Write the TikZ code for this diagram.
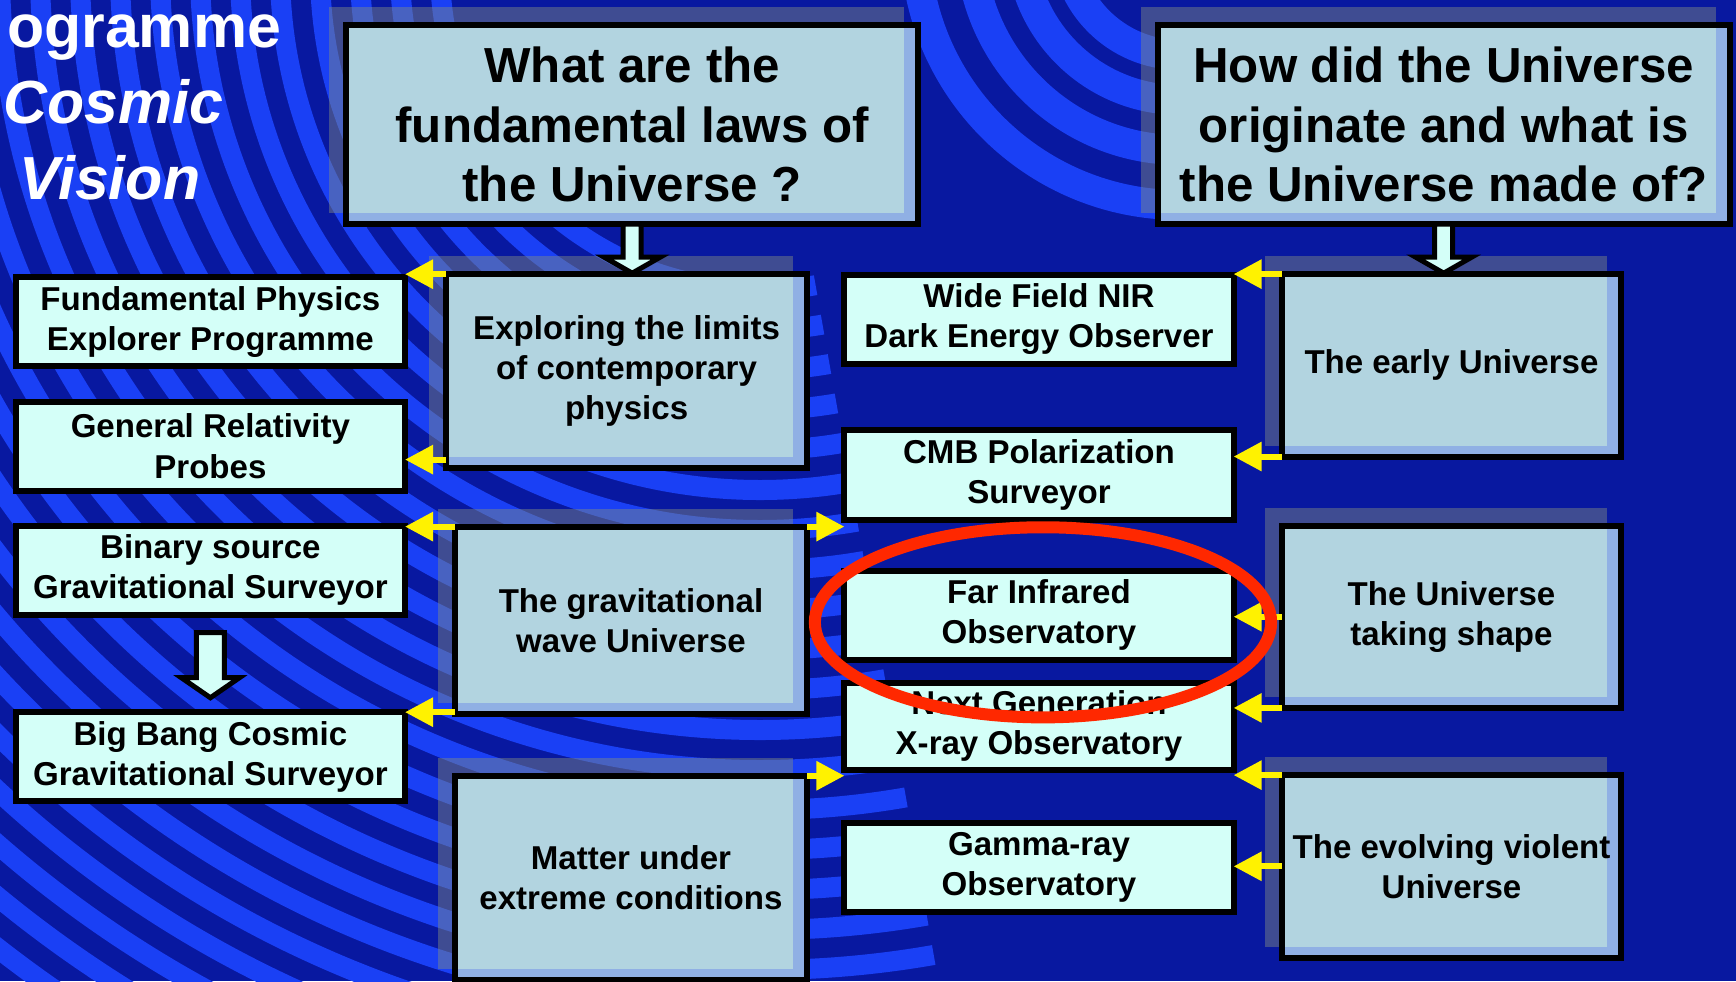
\documentclass[tikz,border=0pt]{standalone}
\usepackage{fontspec}
\setmainfont{Liberation Sans}
\usetikzlibrary{arrows.meta}
\definecolor{navy}{HTML}{0818A0}
\definecolor{swirl}{HTML}{1A40F5}
\definecolor{missionfill}{HTML}{D4FFF8}
\definecolor{themefill}{HTML}{B2D4E0}
\definecolor{themeedge}{HTML}{90B0E4}
\definecolor{shadegray}{HTML}{828C82}
\definecolor{marker}{HTML}{FF2800}
\pgfdeclarelayer{back}
\pgfdeclarelayer{shade}
\pgfsetlayers{back,shade,main}
\newcommand{\boxfont}{\fontsize{9.4}{11.4}\selectfont\bfseries}
\newcommand{\questionfont}{\fontsize{14}{17}\selectfont\bfseries}
\newcommand{\titlefont}{\fontsize{17.3}{22}\selectfont\bfseries}
\newcommand{\mission}[3]{\node[mission] (#1) at (#2) {#3};}
\newcommand{\shadebox}[1]{\fill[shade] ([shift={(-17,-18)}]#1.north west) rectangle ([shift={(-14,-11)}]#1.south east);}

\begin{document}
\begin{tikzpicture}[
      x=0.01cm, y=-0.01cm,
      every node/.style={inner sep=0pt, outer sep=0pt, align=center, font=\boxfont},
      mission/.style={draw=black, line width=0.06cm, fill=missionfill, minimum width=3.89cm, minimum height=0.89cm},
      theme/.style={draw=black, line width=0.06cm, fill=themeedge,
        path picture={\fill[themefill] (path picture bounding box.north west) rectangle ([xshift=-0.14cm,yshift=0.11cm]path picture bounding box.south east);}},
      question/.style={theme, minimum width=5.72cm, minimum height=1.99cm, font=\questionfont},
      title/.style={text=white, font=\titlefont},
      shade/.style={fill=shadegray, fill opacity=0.45},
      stripe/.style={draw=swirl, line width=0.2cm},
      ypointer/.style={draw=yellow, line width=0.06cm, -{Triangle[length=0.28cm,width=0.28cm]}},
      bpointer/.style={draw=black, line width=0.05cm, fill=missionfill},
      highlight/.style={draw=marker, line width=0.12cm}
      ]
      \useasboundingbox (0,0) rectangle (1736,981);
      \clip (0,0) rectangle (1736,981);

      \begin{pgfonlayer}{back}
        \clip (0,0) rectangle (1736,981);
        \fill[navy] (0,0) rectangle (1736,981);
        \begin{scope}
          \clip (760,-30) -- (1281,2924) -- (-3000,2924) -- (-3000,-1000) -- (760,-1000) -- cycle;
          \foreach \r in {320,360,...,1400}
            \draw[stripe] (760,-30) circle[radius=\r];
        \end{scope}
        \begin{scope}
          \clip (830,0) rectangle (1160,240);
          \foreach \r in {115,160,210,265}
            \draw[stripe, line width=0.3cm] (1180,-60) circle[radius=\r];
        \end{scope}
      \end{pgfonlayer}

      \node[question] (Q1) at (632.2,124.6) {What are the\\fundamental laws of\\the Universe ?};
      \node[question] (Q2) at (1443.7,124.6) {How did the Universe\\originate and what is\\the Universe made of?};

      \node[theme, minimum width=3.615cm, minimum height=1.933cm] (EXP) at (626.6,370.9) {Exploring the limits\\of contemporary\\physics};
      \node[theme, minimum width=3.527cm, minimum height=1.877cm] (GW) at (631,620.5) {The gravitational\\wave Universe};
      \node[theme, minimum width=3.527cm, minimum height=2.04cm] (MU) at (631,877.8) {Matter under\\extreme conditions};
      \node[theme, minimum width=3.395cm, minimum height=1.823cm] (EU) at (1451.5,365.3) {The early Universe};
      \node[theme, minimum width=3.395cm, minimum height=1.823cm] (US) at (1451.5,616.7) {The Universe\\taking shape};
      \node[theme, minimum width=3.395cm, minimum height=1.823cm] (EV) at (1451.5,866.3) {The evolving violent\\Universe};

      \mission{FP}{210.4,321.6}{Fundamental Physics\\Explorer Programme}
      \mission{GR}{210.4,446.2}{General Relativity\\Probes}
      \mission{BS}{210.4,570.2}{Binary source\\Gravitational Surveyor}
      \mission{BB}{210.4,756.7}{Big Bang Cosmic\\Gravitational Surveyor}
      \mission{WF}{1039,319.4}{Wide Field NIR\\Dark Energy Observer}
      \mission{CMB}{1039,475}{CMB Polarization\\Surveyor}
      \mission{FIR}{1039,615.3}{Far Infrared\\Observatory}
      \node[mission, minimum height=0.87cm] (NGX) at (1039,726.3) {Next Generation\\X-ray Observatory};
      \mission{GRO}{1039,867.7}{Gamma-ray\\Observatory}

      \begin{pgfonlayer}{shade}
        \foreach \n in {Q1,Q2,EXP,GW,MU,EU,US,EV}
          {\shadebox{\n}}
      \end{pgfonlayer}

      \draw[bpointer] ([xshift=-0.09cm]Q1.south) -- ++(0,33) -- ++(-19,0) -- ++(28,16) -- ++(28,-16) -- ++(-19,0) -- ++(0,-33) -- cycle;
      \draw[bpointer] ([xshift=-0.09cm]Q2.south) -- ++(0,33) -- ++(-19,0) -- ++(28,16) -- ++(28,-16) -- ++(-19,0) -- ++(0,-33) -- cycle;
      \draw[bpointer] ([shift={(-14,18)}]BS.south) -- ++(0,45) -- ++(-15,0) -- ++(29,20) -- ++(29,-20) -- ++(-15,0) -- ++(0,-45) -- cycle;

      \coordinate (a2) at ([yshift=0.08cm]EXP.south west);
      \draw[ypointer] (EXP.north west) -- (EXP.north west -| FP.east);
      \draw[ypointer] (a2) -- (a2 -| GR.east);
      \draw[ypointer] (GW.north west) -- (GW.north west -| BS.east);
      \draw[ypointer] (GW.north east) -- (GW.north east -| CMB.west);
      \draw[ypointer] (BB.north east -| GW.west) -- (BB.north east);
      \draw[ypointer] (MU.north east) -- (MU.north east -| NGX.west);
      \draw[ypointer] (EU.north west) -- (EU.north west -| WF.east);
      \draw[ypointer] (EU.south west) -- (EU.south west -| CMB.east);
      \draw[ypointer] (US.west) -- (US.west -| FIR.east);
      \draw[ypointer] (US.south west) -- (US.south west -| NGX.east);
      \draw[ypointer] (EV.north west) -- (EV.north west -| NGX.east);
      \draw[ypointer] (EV.west) -- (EV.west -| GRO.east);

      \draw[highlight] ([shift={(4,7)}]FIR.center) ellipse [x radius=2.28cm, y radius=0.95cm];

      \node[title, anchor=base east] (prog) at (281,47) {ogramme};
      \node[title, font=\titlefont\itshape, anchor=base] (cosmic) at (113,123) {Cosmic};
      \node[title, font=\titlefont\itshape, anchor=base] (vision) at (110,199) {Vision};
    \end{tikzpicture}
\end{document}
